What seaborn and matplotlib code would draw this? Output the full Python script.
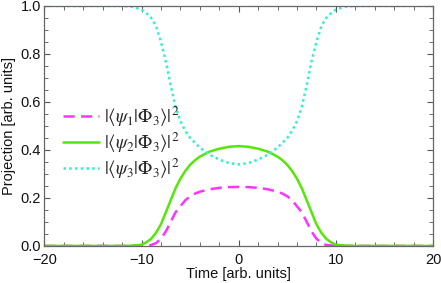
import numpy as np
import pandas as pd
import seaborn as sns
import matplotlib.pyplot as plt
from matplotlib.ticker import MultipleLocator

# time points (arb. units)
time = [-20, -14, -12, -11, -10, -9.5, -9, -8.5, -8, -7.5, -7, -6.5, -6, -5.5, -5, -4.5, -4, -3, -2, -1,
        0, 1, 2, 3, 4, 4.5, 5, 5.5, 6, 6.5, 7, 7.5, 8, 8.5, 9, 9.5, 10, 11, 12, 14, 20]

# |<psi1|Phi3>|^2
psi1 = [0, 0, 0, 0, 0.0, 0.002, 0.004, 0.012, 0.03, 0.06, 0.10, 0.14, 0.165, 0.19, 0.207, 0.218, 0.226,
        0.236, 0.242, 0.245, 0.246, 0.245, 0.242, 0.236, 0.226, 0.218, 0.207, 0.19, 0.165, 0.14, 0.10,
        0.06, 0.03, 0.012, 0.004, 0.002, 0.0, 0, 0, 0, 0]
# |<psi2|Phi3>|^2
psi2 = [0, 0, 0, 0.001, 0.005, 0.015, 0.03, 0.055, 0.09, 0.14, 0.19, 0.24, 0.28, 0.312, 0.338, 0.357, 0.372,
        0.393, 0.405, 0.413, 0.416, 0.413, 0.405, 0.393, 0.372, 0.357, 0.338, 0.312, 0.28, 0.24, 0.19,
        0.14, 0.09, 0.055, 0.03, 0.015, 0.005, 0.001, 0, 0, 0]
# |<psi3|Phi3>|^2
psi3 = [1, 1, 1, 0.997, 0.985, 0.97, 0.95, 0.915, 0.85, 0.77, 0.67, 0.58, 0.52, 0.48, 0.45, 0.43, 0.41,
        0.38, 0.36, 0.345, 0.34, 0.345, 0.36, 0.38, 0.41, 0.43, 0.45, 0.48, 0.52, 0.58, 0.67,
        0.77, 0.85, 0.915, 0.95, 0.97, 0.985, 0.997, 1, 1, 1]

labels = [r'$|\langle\psi_1|\Phi_3\rangle|^2$',
          r'$|\langle\psi_2|\Phi_3\rangle|^2$',
          r'$|\langle\psi_3|\Phi_3\rangle|^2$']
colors = ['#ff33ff', '#55e60a', '#33f0cc']

sns.set_style('ticks')
plt.rcParams['font.family'] = ['Liberation Sans', 'DejaVu Sans']
plt.rcParams['mathtext.fontset'] = 'stix'

fig = plt.figure(figsize=(4.41, 2.83), dpi=100)
ax = fig.add_axes([0.1005, 0.131, 0.8815, 0.848])

df = pd.DataFrame({'t': time, 'p1': psi1, 'p2': psi2, 'p3': psi3})
sns.lineplot(data=df, x='t', y='p1', ax=ax, color=colors[0], lw=1.8, label=labels[0],
             linestyle=(0, (4.5, 2.5)))
sns.lineplot(data=df, x='t', y='p2', ax=ax, color=colors[1], lw=1.8, label=labels[1])
sns.lineplot(data=df, x='t', y='p3', ax=ax, color=colors[2], lw=1.8, label=labels[2],
             linestyle=(0, (1, 1.3)))

ax.set_xlim(-20, 20)
ax.set_ylim(0, 1)
ax.xaxis.set_minor_locator(MultipleLocator(2))
ax.yaxis.set_minor_locator(MultipleLocator(0.05))
ax.set_xticks([-20, -10, 0, 10, 20])
ax.set_xticklabels(['\u221220', '\u221210', '0', '10', '20'])
ax.set_yticks([0, 0.2, 0.4, 0.6, 0.8, 1.0])
ax.set_yticklabels(['0.0', '0.2', '0.4', '0.6', '0.8', '1.0'])
ax.tick_params(which='both', direction='in', top=True, right=True, color='#555555',
               labelsize=10.5, labelcolor='#111111')
ax.tick_params(axis='x', pad=5)
ax.tick_params(axis='y', pad=2.5)
ax.tick_params(which='major', length=4.5, width=0.8)
ax.tick_params(which='minor', length=2.8, width=0.6)
for s in ax.spines.values():
    s.set_color('#666666')
    s.set_linewidth(0.9)

ax.set_xlabel('Time [arb. units]', fontsize=10.5, labelpad=0, color='#111111')
ax.set_ylabel('Projection [arb. units]', fontsize=10.5, labelpad=3, color='#111111')

ax.legend(loc='center left', bbox_to_anchor=(0.02, 0.43), frameon=False, fontsize=13.5,
          handlelength=1.9, handletextpad=0.25, labelspacing=0.1, borderaxespad=0.2)

fig.savefig('out.png', dpi=100)
